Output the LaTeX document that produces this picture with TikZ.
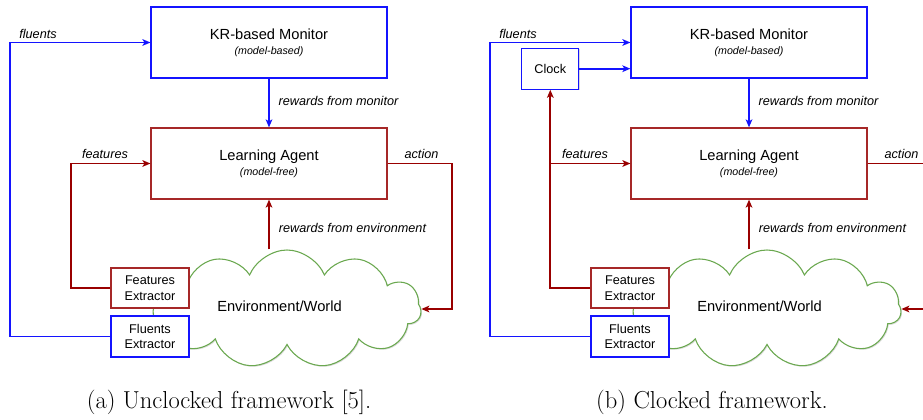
\documentclass[tikz,border=0pt]{standalone}
\usepackage{fontspec}
\usepackage{tikz}
\usetikzlibrary{arrows.meta,positioning,calc,shapes.symbols,shadows}
\newfontfamily\diagfont{Liberation Sans}
\newcommand\modelnote{\itshape\fontsize{8}{9}\selectfont}
\definecolor{monitorblue}{RGB}{20,20,255}
\definecolor{agentred}{RGB}{153,0,0}
\definecolor{agentedge}{RGB}{166,40,40}
\definecolor{cloudgreen}{RGB}{106,168,79}

\begin{document}
\begin{tikzpicture}[
  x=0.75pt,y=-0.75pt,
  font=\diagfont\fontsize{11}{13}\selectfont,
  blueline/.style={line width=1.4pt,draw=monitorblue},
  redline/.style={line width=1.4pt,draw=agentred},
  bluearrow/.style={blueline,-{Stealth[length=6pt,width=5pt,inset=1.5pt]}},
  redarrow/.style={redline,-{Stealth[length=6pt,width=5pt,inset=1.5pt]}},
  boxshadow/.style={drop shadow={shadow xshift=0.8pt,shadow yshift=-0.8pt,fill=black,opacity=0.15}},
  bigbox/.style={fill=white,line width=0.9pt,align=center,inner sep=0pt,
    minimum width=177pt,minimum height=53.25pt,boxshadow},
  monbox/.style={bigbox,draw=monitorblue},
  agentbox/.style={bigbox,draw=agentedge},
  smallbox/.style={fill=white,line width=0.9pt,align=center,inner sep=0pt,
    font=\diagfont\fontsize{9.5}{11.8}\selectfont,boxshadow},
  envcloud/.style={cloud,cloud puffs=11,cloud puff arc=135,cloud ignores aspect,
    draw=cloudgreen,fill=white,line width=0.8pt,
    minimum width=201pt,minimum height=88.5pt,inner sep=0pt,boxshadow},
  flowlabel/.style={font=\diagfont\itshape\fontsize{9.5}{11}\selectfont},
  caption/.style={font=\rmfamily\fontsize{18.4}{22}\selectfont}
]
\clip (0,0) rectangle (923,420);

% -------------------------------------------------------------------------
% (a) Unclocked framework.
% -------------------------------------------------------------------------
\node[envcloud] (aenv) at (287,309) {};
\node (aenvtext) at (279.5,306) {Environment/World};
\node[monbox] (amon) at (269,42.5)
  {KR-based Monitor\\[-2pt]{\modelnote (model-based)}};
\node[agentbox] (aagent) at (269,163.5)
  {Learning Agent\\[-2pt]{\modelnote (model-free)}};
\node[smallbox,draw=agentedge,minimum width=58.5pt,minimum height=30pt] (afeat) at (150,288)
  {Features\\Extractor};
\node[smallbox,draw=monitorblue,minimum width=58.5pt,minimum height=30.75pt] (aflu) at (150,336.5)
  {Fluents\\Extractor};

\draw[bluearrow] (aflu.west) -- ++(-100,0) |- (amon.west);
\draw[bluearrow] (amon.south) -- (aagent.north);
\draw[redarrow] (afeat.west) -- ++(-39,0) |- (aagent.west);
\draw[redarrow] (aagent.east) -- ++(64,0) |- (aenv.east);
\draw[redarrow] (aagent.south |- aenv.north) -- (aagent.south);

\node[flowlabel] (afluentslbl) at (38,34) {fluents};
\node[flowlabel] (amonrewlbl) at (338.5,101) {rewards from monitor};
\node[flowlabel] (afeatlbl) at (105,154) {features};
\node[flowlabel] (aactlbl) at (421.5,154) {action};
\node[flowlabel] (aenvrewlbl) at (352.5,227.5) {rewards from environment};

\node[caption] (capa) at (229,402) {(a) Unclocked framework [5].};

% -------------------------------------------------------------------------
% (b) Clocked framework.
% -------------------------------------------------------------------------
\node[envcloud] (benv) at (767,309) {};
\node (benvtext) at (759.5,306) {Environment/World};
\node[monbox] (bmon) at (749,42.5)
  {KR-based Monitor\\[-2pt]{\modelnote (model-based)}};
\node[agentbox] (bagent) at (749,163.5)
  {Learning Agent\\[-2pt]{\modelnote (model-free)}};
\node[smallbox,draw=monitorblue,minimum width=42.75pt,minimum height=30.75pt] (bclock) at (550.3,68.7)
  {Clock};
\node[smallbox,draw=agentedge,minimum width=58.5pt,minimum height=30pt] (bfeat) at (630,288)
  {Features\\Extractor};
\node[smallbox,draw=monitorblue,minimum width=58.5pt,minimum height=30.75pt] (bflu) at (630,336.5)
  {Fluents\\Extractor};

\draw[bluearrow] (bflu.west) -- ++(-100,0) |- (bmon.west);
\draw[bluearrow] (bclock.east) -- (bclock.east -| bmon.west);
\draw[bluearrow] (bmon.south) -- (bagent.north);
\draw[redarrow] (bfeat.west) -- (bfeat.west -| bclock.south) -- (bclock.south);
\draw[redarrow] (bclock.south |- bagent.west) -- (bagent.west);
\draw[redline] (bagent.east) -- ++(64,0);
\draw[redarrow] ($(benv.east)+(28,0)$) -- (benv.east);
\draw[redarrow] (bagent.south |- benv.north) -- (bagent.south);

\node[flowlabel] (bfluentslbl) at (518,34) {fluents};
\node[flowlabel] (bmonrewlbl) at (818.5,101) {rewards from monitor};
\node[flowlabel] (bfeatlbl) at (585,154) {features};
\node[flowlabel] (bactlbl) at (901.5,154) {action};
\node[flowlabel] (benvrewlbl) at (832.5,227.5) {rewards from environment};

\node[caption] (capb) at (712,402) {(b) Clocked framework.};
\end{tikzpicture}
\end{document}
